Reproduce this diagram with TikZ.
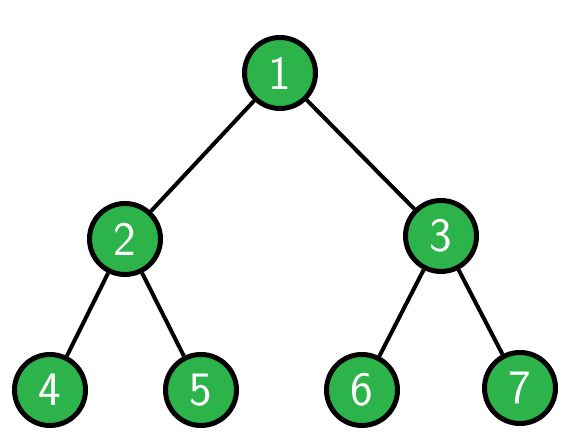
\documentclass[tikz,border=0pt]{standalone}
\usepackage{amssymb}
\usepackage{amsmath}
\usetikzlibrary{shapes.geometric, arrows}
\definecolor{leafgreen}{RGB}{44,180,75}
\tikzset{
  vertex/.style={circle, draw=black, line width=5pt, fill=leafgreen, minimum size=71pt, inner sep=0pt,
    text=white, font=\sffamily\fontsize{48}{48}\selectfont},
  branch/.style={line width=4pt}
}
\begin{document}
\begin{tikzpicture}[x=1pt,y=1pt]
\useasboundingbox (0,0) rectangle (576,443);
\node[vertex] (n1) at (280,370) {1};
\node[vertex] (n2) at (125,204) {2};
\node[vertex] (n3) at (441,207) {3};
\node[vertex] (n4) at (50,53) {4};
\node[vertex] (n5) at (201,53) {5};
\node[vertex] (n6) at (362,53) {6};
\node[vertex] (n7) at (520,55) {7};
\draw[branch] (n1) -- (n2);
\draw[branch] (n1) -- (n3);
\draw[branch] (n2) -- (n4);
\draw[branch] (n2) -- (n5);
\draw[branch] (n3) -- (n6);
\draw[branch] (n3) -- (n7);
\end{tikzpicture}
\end{document}
